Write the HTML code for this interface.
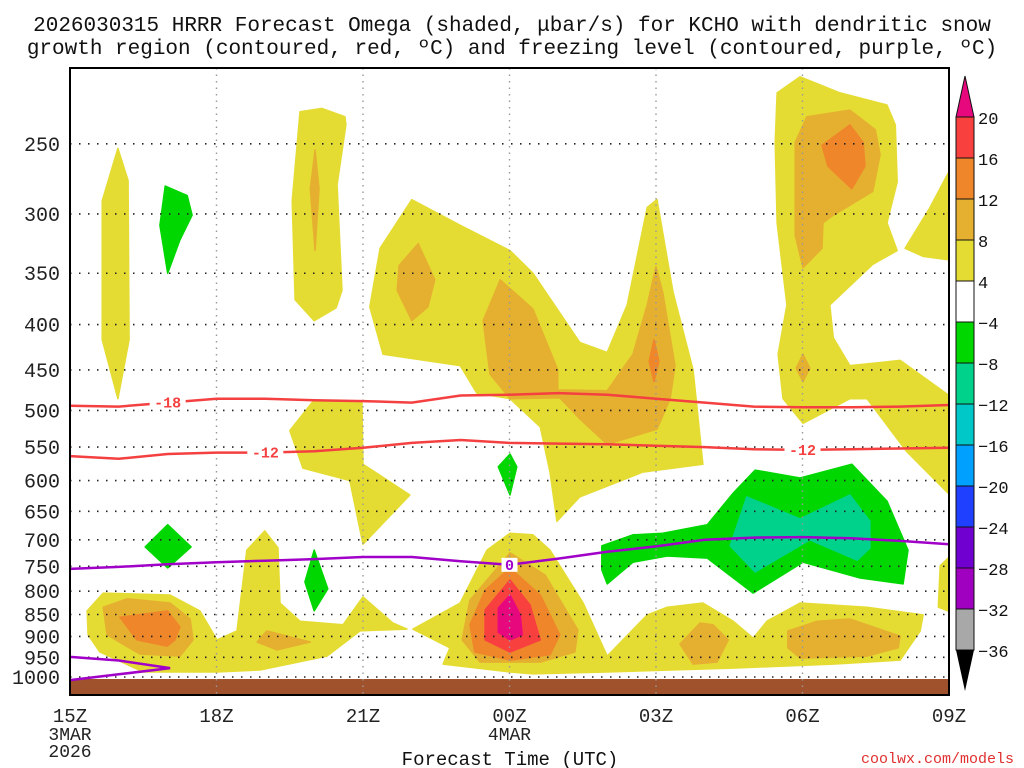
<!DOCTYPE html>
<html><head><meta charset="utf-8"><style>
html,body{margin:0;padding:0;background:#fff;}
svg{display:block;}
text{font-family:"Liberation Mono","DejaVu Sans Mono",monospace;}
</style></head><body>
<svg id="chart" width="1024" height="768" viewBox="0 0 1024 768" xmlns="http://www.w3.org/2000/svg">
<text x="512" y="31" font-size="21" text-anchor="middle" fill="#111">2026030315 HRRR Forecast Omega (shaded, μbar/s) for KCHO with dendritic snow</text>
<text x="512" y="54" font-size="21" text-anchor="middle" fill="#111">growth region (contoured, red, ºC) and freezing level (contoured, purple, ºC)</text>
<g id="fills"></g>
<rect x="70" y="679" width="879" height="16" fill="#a0522d"/>
<g id="grid"></g>
<g id="lines"></g>
<rect x="70" y="68" width="879" height="627" fill="none" stroke="#000" stroke-width="2"/>
<g id="axes"></g>
<g id="cbar"></g>
<text x="510" y="765" font-size="19" text-anchor="middle" fill="#111">Forecast Time (UTC)</text>
<text x="1014" y="763" font-size="15" text-anchor="end" fill="#e03030">coolwx.com/models</text>
</svg>
<script>
const pTicks=[250,300,350,400,450,500,550,600,650,700,750,800,850,900,950,1000];
const hTicks=[0,3,6,9,12,15,18];
const hLabels=["15Z","18Z","21Z","00Z","03Z","06Z","09Z"];
const cbLevels=["20","16","12","8","4","−4","−8","−12","−16","−20","−24","−28","−32","−36"];
const cbColors=["#f8403f","#ef872a","#e5b030","#e5dc33","#ffffff","#00d700","#00d28c","#00c8c8","#00a0ff","#2040ff","#7000d0","#a000c0","#a8a8a8"];
const lineHours=[0,1,2,3,4,5,6,7,8,9,10,11,12,13,14,15,16,17,18];
const isoM18=[494,495,490,485,485,487,488,490,481,480,478,480,485,490,495,496,496,495,493];
const isoM12=[563,567,560,558,558,556,551,544,540,544,545,546,548,550,553,554,553,552,551];
const iso0=[755,751,746,742,739,736,732,732,740,747,735,722,712,700,696,695,697,702,708];
const iso0LowH=[0,1,2.05,1,0];
const iso0LowP=[949,958,977,993,1008];
const YEL="#e5dc33",LOR="#e5b030",ORG="#ef872a",RED="#f8403f",PNK="#e8087e",GRN="#00d700",TEA="#00d28c";
const blobA=[[0.98,253],[1.19,275],[1.21,416],[0.98,485],[0.66,416],[0.66,290]];
const blobB=[[1.95,279],[2.4,286],[2.5,301],[2.25,321],[2.0,350],[1.84,309]];
const blobC=[[4.71,230],[5.16,228],[5.63,233],[5.65,238],[5.47,278],[5.57,366],[5.45,383],[5.0,396],[4.61,375],[4.55,290]];
const blobC2=[[5.02,254],[5.1,281],[5.02,330],[4.92,281]];
const blobD=[[6.14,382],[6.35,328],[7.0,289],[7.99,309],[9.01,330],[9.48,350],[10.44,419],[11.0,430],[11.41,380],[11.82,295],[12.02,289],[12.35,368],[12.76,450],[12.96,575],[11.73,587],[10.44,626],[9.97,667],[9.83,587],[9.63,522],[9.01,485],[8.33,478],[7.99,445],[6.41,432]];
const blobO1=[[7.13,324],[7.47,356],[7.33,382],[7.0,396],[6.7,366],[6.74,343]];
const blobO2=[[8.81,356],[9.48,384],[9.99,450],[9.99,474],[11.0,475],[11.53,432],[11.82,380],[12.0,344],[12.14,368],[12.39,445],[12.29,485],[12.02,525],[11.0,546],[10.44,511],[10.03,484],[9.01,485],[8.6,455],[8.46,396]];
const blobR=[[11.96,416],[12.06,440],[11.96,464],[11.86,440]];
const blobE=[[14.48,219],[14.95,210],[15.77,219],[16.73,226],[16.9,238],[16.94,276],[16.73,307],[16.94,330],[16.44,342],[15.56,380],[15.63,414],[15.97,445],[17.0,439],[17.98,480],[17.98,620],[17.14,557],[16.32,485],[15.97,485],[15.01,517],[14.6,485],[14.5,432],[14.68,380],[14.48,307],[14.44,249]];
const blobEO=[[14.85,249],[15.09,233],[15.97,229],[16.49,241],[16.59,257],[16.44,283],[15.63,301],[15.42,307],[15.4,328],[15.01,345],[14.85,317]];
const blobED=[[15.4,251],[15.97,238],[16.24,249],[16.28,265],[16.01,281],[15.52,265]];
const blobES=[[15.01,432],[15.15,448],[15.01,464],[14.87,448]];
const blobF=[[17.1,328],[17.61,295],[17.98,270],[17.98,338],[17.47,335]];
const blobG=[[4.98,488],[5.98,490],[6.0,575],[6.96,623],[6.0,708],[5.73,600],[4.77,581],[4.5,527]];
const blobGR1=[[8.77,579],[9.01,560],[9.15,579],[9.01,623]];
const blobGR2=[[2.0,673],[2.48,713],[2.0,753],[1.54,713]];
const blobGR3=[[5.0,719],[5.28,795],[5.0,842],[4.81,781]];
const blobL=[[0.35,842],[0.68,804],[2.05,808],[2.66,842],[3.01,908],[3.42,887],[3.62,719],[3.99,684],[4.26,715],[4.3,825],[4.71,865],[5.59,873],[6.0,812],[6.61,869],[6.9,883],[5.94,887],[5.26,947],[3.89,982],[3.01,987],[1.5,987],[0.61,937],[0.37,896]];
const blobLO1=[[0.68,834],[1.17,816],[2.05,825],[2.46,860],[2.52,908],[2.25,947],[1.43,942],[0.76,896]];
const blobLO2=[[1.02,856],[2.0,842],[2.25,878],[2.15,908],[1.99,923],[1.37,908]];
const blobLO3=[[3.83,913],[4.03,887],[4.92,913],[4.24,932]];
const blobM=[[7.02,883],[7.99,825],[8.54,719],[9.01,688],[9.48,691],[9.83,719],[10.51,825],[11.0,947],[11.82,851],[12.23,834],[12.96,825],[13.58,865],[13.99,904],[14.27,865],[14.95,825],[16.32,834],[17.47,851],[17.41,887],[17.0,957],[15.63,967],[13.58,977],[11.0,987],[9.48,992],[9.01,987],[7.64,967],[7.78,927]];
const blobMR=[[17.82,749],[17.98,734],[17.98,842],[17.78,834]];
const blobPk1=[[9.01,724],[9.73,767],[10.4,885],[10.34,937],[9.63,962],[8.4,962],[8.03,908],[8.19,819]];
const blobPk2=[[9.01,753],[9.63,808],[10.03,896],[9.83,944],[9.01,957],[8.29,937],[8.19,873],[8.5,798]];
const blobPk3=[[9.01,777],[9.42,829],[9.63,908],[9.01,937],[8.5,908],[8.5,840]];
const blobPk4=[[9.01,808],[9.22,851],[9.26,896],[9.01,908],[8.77,890],[8.77,836]];
const blobOA=[[12.49,918],[12.9,869],[13.17,873],[13.48,908],[13.25,962],[12.76,967]];
const blobOB=[[14.7,887],[15.3,865],[15.97,860],[17.0,899],[16.96,927],[16.32,947],[14.95,952],[14.7,927]];
const blobGB=[[10.89,711],[11.53,691],[12.14,688],[13.05,673],[13.58,620],[14.03,584],[14.95,596],[16.01,575],[16.73,633],[17.16,719],[17.06,785],[16.18,773],[15.01,742],[13.99,804],[13.05,734],[12.23,730],[11.53,742],[11.0,785],[10.89,757]];
const blobTL=[[13.52,711],[13.86,626],[14.95,663],[15.97,623],[16.38,667],[16.38,715],[16.12,738],[15.15,700],[14.03,761]];

const X0=70,X1=949,HMAX=18;
function xS(h){return X0+h*(X1-X0)/HMAX;}
function yS(p){return 677-384.6*Math.log(1000/p);}
const NS="http://www.w3.org/2000/svg";
function mk(tag,parent){const e=document.createElementNS(NS,tag);parent.appendChild(e);return e;}

const fills=document.getElementById('fills');
const layers=[
 ["blob-a",blobA,YEL],["blob-c",blobC,YEL],["blob-c-core",blobC2,LOR],["blob-d",blobD,YEL],["blob-d-core-1",blobO1,LOR],["blob-d-core-2",blobO2,LOR],["blob-d-max",blobR,ORG],
 ["blob-e",blobE,YEL],["blob-e-core",blobEO,LOR],["blob-e-max",blobED,ORG],["blob-e-small",blobES,LOR],["blob-f",blobF,YEL],["blob-g",blobG,YEL],
 ["blob-low-left",blobL,YEL],["blob-low-left-core",blobLO1,LOR],["blob-low-left-max",blobLO2,ORG],["blob-low-small",blobLO3,LOR],
 ["blob-low-mid",blobM,YEL],["blob-low-right-edge",blobMR,YEL],["peak-8",blobPk1,LOR],["peak-12",blobPk2,ORG],["peak-16",blobPk3,RED],["peak-20",blobPk4,PNK],
 ["blob-low-03z",blobOA,LOR],["blob-low-06z",blobOB,LOR],
 ["sink-upper",blobB,GRN],["sink-mid",blobGR1,GRN],["sink-left",blobGR2,GRN],["sink-20z",blobGR3,GRN],["sink-band",blobGB,GRN],["sink-band-core",blobTL,TEA]
];
layers.forEach(([nm,pts,col])=>{
 const el=mk('polygon',fills);
 
 
 el.setAttribute('points',pts.map(d=>xS(d[0]).toFixed(1)+','+yS(d[1]).toFixed(1)).join(' '));
 el.setAttribute('fill',col);
 el.setAttribute('stroke',col);
 el.setAttribute('stroke-width','1.5');
 el.setAttribute('stroke-linejoin','round');
});

const grid=document.getElementById('grid');
pTicks.forEach(p=>{
 const l=mk('line',grid);
 
 
 l.setAttribute('x1',X0);l.setAttribute('x2',X1);l.setAttribute('y1',yS(p));l.setAttribute('y2',yS(p));
 l.setAttribute('stroke','#222');l.setAttribute('stroke-width','1.6');l.setAttribute('stroke-dasharray','1.5 7.5');
});
hTicks.forEach(h=>{
 const l=mk('line',grid);
 
 
 l.setAttribute('x1',xS(h));l.setAttribute('x2',xS(h));l.setAttribute('y1',68);l.setAttribute('y2',695);
 l.setAttribute('stroke','#999');l.setAttribute('stroke-width','1.4');l.setAttribute('stroke-dasharray','1.5 5');
});

const lines=document.getElementById('lines');
function poly(nm,hs,ps,col){
 const el=mk('polyline',lines);
 
 
 el.setAttribute('points',hs.map((h,i)=>xS(h).toFixed(1)+','+yS(ps[i]).toFixed(1)).join(' '));
 el.setAttribute('fill','none');el.setAttribute('stroke',col);el.setAttribute('stroke-width','2.5');
}
poly('isotherm-minus-18',lineHours,isoM18,'#f44040');
poly('isotherm-minus-12',lineHours,isoM12,'#f44040');
poly('freezing-level',lineHours,iso0,'#a000c8');
poly('freezing-level-low',iso0LowH,iso0LowP,'#a000c8');
function clabel(nm,h,arr,txt,col){
 const i=Math.round(h);const y=yS(arr[i]);const x=xS(h);
 const r=mk('rect',lines);
 
 
 r.setAttribute('x',x-txt.length*5-3);r.setAttribute('y',y-7);r.setAttribute('width',txt.length*10+6);r.setAttribute('height',14);r.setAttribute('fill','#fff');
 const t=mk('text',lines);
 
 
 t.setAttribute('x',x);t.setAttribute('y',y+5);t.setAttribute('text-anchor','middle');t.setAttribute('font-size','15');t.setAttribute('font-weight','bold');t.setAttribute('fill',col);
 t.textContent=txt;
}
clabel('label-minus-18',2,isoM18,'-18','#f44040');
clabel('label-minus-12-left',4,isoM12,'-12','#f44040');
clabel('label-minus-12-right',15,isoM12,'-12','#f44040');
clabel('label-freezing-0',9,iso0,'0','#a000c8');

const axes=document.getElementById('axes');
pTicks.forEach(p=>{
 const t=mk('text',axes);
 
 
 t.setAttribute('x',60);t.setAttribute('y',yS(p)+7);t.setAttribute('text-anchor','end');t.setAttribute('font-size','20');t.setAttribute('fill','#222');
 t.textContent=p;
});
hTicks.forEach((h,i)=>{
 const t=mk('text',axes);
 
 
 t.setAttribute('x',xS(h));t.setAttribute('y',722);t.setAttribute('text-anchor','middle');t.setAttribute('font-size','19');t.setAttribute('fill','#222');
 t.textContent=hLabels[i];
});
[["date-label-3mar",0,"3MAR",740],["date-label-2026",0,"2026",757],["date-label-4mar",9,"4MAR",740]].forEach(([nm,h,tx,y])=>{
 const t=mk('text',axes);
 
 
 t.setAttribute('x',xS(h));t.setAttribute('y',y);t.setAttribute('text-anchor','middle');t.setAttribute('font-size','18');t.setAttribute('fill','#222');
 t.textContent=tx;
});

const cb=document.getElementById('cbar');
const CBX=956,CBW=18,CBT=117,CBB=650,step=(CBB-CBT)/cbColors.length;
const tri1=mk('polygon',cb);


tri1.setAttribute('points',`${CBX},${CBT} ${CBX+CBW},${CBT} ${CBX+CBW/2},${76}`);
tri1.setAttribute('fill',PNK);tri1.setAttribute('stroke','#111');
cbColors.forEach((c,i)=>{
 const r=mk('rect',cb);
 
 
 r.setAttribute('x',CBX);r.setAttribute('y',CBT+i*step);r.setAttribute('width',CBW);r.setAttribute('height',step);
 r.setAttribute('fill',c);r.setAttribute('stroke','#111');r.setAttribute('stroke-width','1');
});
const tri2=mk('polygon',cb);


tri2.setAttribute('points',`${CBX},${CBB} ${CBX+CBW},${CBB} ${CBX+CBW/2},${691}`);
tri2.setAttribute('fill','#000');
cbLevels.forEach((lv,i)=>{
 const t=mk('text',cb);
 
 
 t.setAttribute('x',978);t.setAttribute('y',CBT+i*step+7);t.setAttribute('font-size','17');t.setAttribute('fill','#111');
 t.textContent=lv;
});
</script>
</body></html>
